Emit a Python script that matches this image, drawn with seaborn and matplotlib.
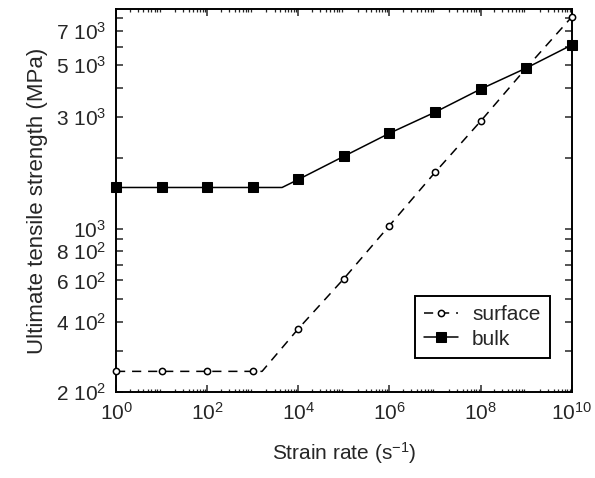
import numpy as np
import pandas as pd
import matplotlib
matplotlib.use('Agg')
import matplotlib.pyplot as plt
import seaborn as sns

# data
strain_rate = [1e0, 1e1, 1e2, 1e3, 1e4, 1e5, 1e6, 1e7, 1e8, 1e9, 1e10]
surface = [245, 245, 245, 245, 373, 611, 1031, 1741, 2883, 4865, 8055]
bulk = [1500, 1500, 1500, 1500, 1623, 2040, 2560, 3150, 3955, 4865, 6110]
# where the flat part of each curve bends upward
surface_kink = (1.6e3, 245)
bulk_kink = (4.4e3, 1500)

y_ticks = [200, 300, 400, 500, 600, 700, 800, 900, 1000,
           2000, 3000, 4000, 5000, 6000, 7000, 8000]
y_labels = {200: '2 $10^{2}$', 400: '4 $10^{2}$', 600: '6 $10^{2}$', 800: '8 $10^{2}$',
            1000: '$10^{3}$', 3000: '3 $10^{3}$', 5000: '5 $10^{3}$', 7000: '7 $10^{3}$'}
x_ticks = [1e0, 1e2, 1e4, 1e6, 1e8, 1e10]
x_labels = ['$10^{0}$', '$10^{2}$', '$10^{4}$', '$10^{6}$', '$10^{8}$', '$10^{10}$']


def with_kink(xs, ys, kink):
    pts = sorted(list(zip(xs, ys)) + [kink])
    return pd.DataFrame(pts, columns=['x', 'y'])


sns.set_style('ticks')
plt.rcParams['font.family'] = ['Liberation Sans', 'DejaVu Sans']
plt.rcParams['mathtext.fontset'] = 'custom'
plt.rcParams['mathtext.rm'] = 'Liberation Sans'
plt.rcParams['mathtext.it'] = 'Liberation Sans:italic'
plt.rcParams['mathtext.default'] = 'regular'

fig = plt.figure(figsize=(5.95, 4.78), dpi=100)
ax = fig.add_axes([0.195, 0.18, 0.766, 0.801])

surf_df = with_kink(strain_rate, surface, surface_kink)
bulk_df = with_kink(strain_rate, bulk, bulk_kink)
surf_marks = [i for i, v in enumerate(surf_df['x']) if v in strain_rate]
bulk_marks = [i for i, v in enumerate(bulk_df['x']) if v in strain_rate]

sns.lineplot(data=surf_df, x='x', y='y', ax=ax, color='black', linestyle=(0, (6, 4.5)),
             linewidth=1.1, marker='o', markersize=4.5,
             markerfacecolor='white', markeredgecolor='black', markeredgewidth=1.1,
             markevery=surf_marks, clip_on=False, zorder=3,
             sort=False, estimator=None, label='surface')
sns.lineplot(data=bulk_df, x='x', y='y', ax=ax, color='black', linestyle='-',
             linewidth=1.1, marker='s', markersize=6.8, markerfacecolor='black',
             markeredgecolor='black', markevery=bulk_marks, clip_on=False, zorder=3,
             sort=False, estimator=None, label='bulk')

ax.set_xscale('log')
ax.set_yscale('log')
ax.set_xlim(1e0, 1e10)
ax.set_ylim(200, 8700)

ax.set_xticks(x_ticks)
ax.set_xticklabels(x_labels)
ax.xaxis.set_minor_locator(matplotlib.ticker.LogLocator(base=10, subs=np.arange(2, 10), numticks=100))
ax.xaxis.set_minor_formatter(matplotlib.ticker.NullFormatter())

ax.set_yticks(y_ticks)
ax.set_yticklabels([y_labels.get(t, '') for t in y_ticks])
ax.yaxis.set_minor_locator(matplotlib.ticker.NullLocator())

ax.tick_params(which='major', direction='in', length=5, width=1.1, top=True, right=True,
               labelsize=15, pad=7)
ax.tick_params(which='minor', direction='in', length=2.5, width=0.9, top=True, right=True)
for s in ax.spines.values():
    s.set_linewidth(1.4)
    s.set_color('black')

ax.set_xlabel('Strain rate (s$^{-1}$)', fontsize=15, labelpad=12)
ax.set_ylabel('Ultimate tensile strength (MPa)', fontsize=16, labelpad=6)

leg = ax.legend(loc='lower right', bbox_to_anchor=(0.952, 0.089), borderaxespad=0,
                fontsize=15, frameon=True, fancybox=False, edgecolor='black', framealpha=1,
                handlelength=1.6, borderpad=0.45, labelspacing=0.25, handletextpad=0.7)
leg.get_frame().set_linewidth(1.4)

fig.savefig('out.png', dpi=100)
